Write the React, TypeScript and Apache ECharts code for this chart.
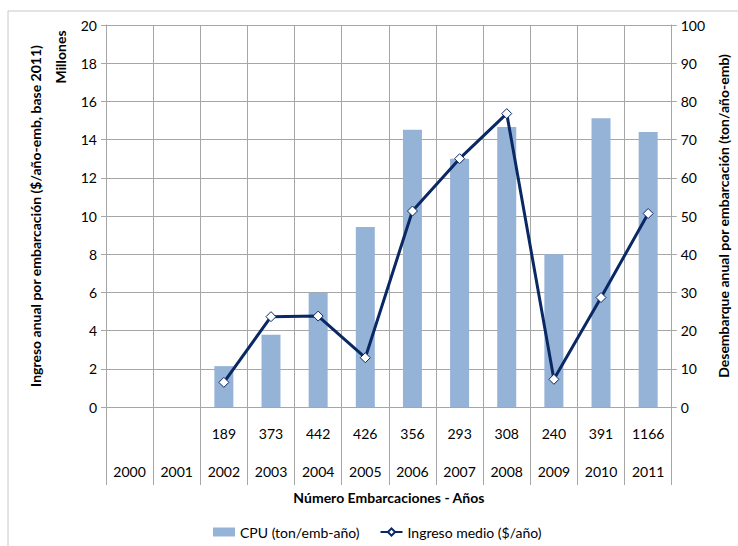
import React, { useEffect, useRef } from "react";
import * as echarts from "echarts";

const years = ["2000", "2001", "2002", "2003", "2004", "2005", "2006", "2007", "2008", "2009", "2010", "2011"];
const embarcaciones = ["", "", "189", "373", "442", "426", "356", "293", "308", "240", "391", "1166"];
const cpu = [null, null, 10.7, 18.9, 29.9, 47.1, 72.6, 65.0, 73.3, 40.0, 75.6, 72.0];
const ingreso = [null, null, 1.29, 4.73, 4.76, 2.58, 10.26, 13.0, 15.36, 1.45, 5.73, 10.13];

const FONT = "Lato, 'Open Sans', sans-serif";
const GRID = "#A6A6A6";
const FS = 14;

export default function App() {
  const ref = useRef<HTMLDivElement>(null);
  useEffect(() => {
    if (!ref.current) return;
    const chart = echarts.init(ref.current, undefined, { renderer: "svg" });
    const option = {
      animation: false,
      backgroundColor: "#ffffff",
      textStyle: { fontFamily: FONT, color: "#000" },
      grid: { left: 106, right: 66, top: 25, bottom: 139 },
      legend: {
        top: 520,
        left: 208,
        itemGap: 20,
        itemWidth: 22,
        itemHeight: 9,
        textStyle: { fontFamily: FONT, fontSize: FS, color: "#000" },
        data: [
          { name: "CPU (ton/emb-año)", icon: "rect" },
          { name: "Ingreso medio ($/año)" },
        ],
      },
      xAxis: {
        type: "category",
        data: years.map((y, i) => `{a|${embarcaciones[i] || " "}}\n{b|${y}}`),
        boundaryGap: true,
        axisLine: { show: true, lineStyle: { color: GRID } },
        axisTick: { show: true, length: 78, interval: 0, lineStyle: { color: GRID } },
        splitLine: { show: true, interval: 0, lineStyle: { color: GRID } },
        axisLabel: {
          interval: 0,
          margin: 7,
          fontFamily: FONT,
          fontSize: FS,
          color: "#000",
          rich: {
            a: { fontFamily: FONT, fontSize: FS, lineHeight: 38, color: "#000" },
            b: { fontFamily: FONT, fontSize: FS, lineHeight: 38, color: "#000" },
          },
        },
        name: "Número Embarcaciones - Años",
        nameLocation: "middle",
        nameGap: 83,
        nameTextStyle: { fontFamily: FONT, fontSize: FS, fontWeight: "bold", color: "#000" },
      },
      yAxis: [
        {
          type: "value",
          min: 0,
          max: 20,
          interval: 2,
          position: "left",
          axisLine: { show: true, lineStyle: { color: GRID } },
          axisTick: { show: true, length: 5, lineStyle: { color: GRID } },
          splitLine: { show: true, lineStyle: { color: GRID } },
          axisLabel: { fontFamily: FONT, fontSize: FS, color: "#000", margin: 9 },
          name: "Ingreso anual por embarcación ($/año-emb, base 2011)",
          nameLocation: "middle",
          nameRotate: 90,
          nameGap: 64,
          nameTextStyle: { fontFamily: FONT, fontSize: FS, fontWeight: "bold", color: "#000" },
        },
        {
          type: "value",
          min: 0,
          max: 100,
          interval: 10,
          position: "right",
          axisLine: { show: true, lineStyle: { color: GRID } },
          axisTick: { show: true, length: 5, lineStyle: { color: GRID } },
          splitLine: { show: false },
          axisLabel: { fontFamily: FONT, fontSize: FS, color: "#000", margin: 9 },
          name: "Desembarque anual por embarcación (ton/año-emb)",
          nameLocation: "middle",
          nameRotate: 90,
          nameGap: 44,
          nameTextStyle: { fontFamily: FONT, fontSize: FS, fontWeight: "bold", color: "#000" },
        },
      ],
      graphic: [
        {
          type: "rect",
          shape: { x: 8, y: 11, width: 800, height: 600 },
          style: { fill: "none", stroke: "#C8C8C8", lineWidth: 1 },
          silent: true,
        },
        {
          type: "text",
          x: 60,
          y: 57,
          rotation: Math.PI / 2,
          style: {
            text: "Millones",
            fontFamily: FONT,
            fontSize: FS,
            fontWeight: "bold",
            fill: "#000",
            textAlign: "center",
            textVerticalAlign: "middle",
          },
        },
      ],
      series: [
        {
          name: "CPU (ton/emb-año)",
          type: "bar",
          yAxisIndex: 1,
          data: cpu,
          barWidth: 19,
          itemStyle: { color: "#95B3D7" },
        },
        {
          name: "Ingreso medio ($/año)",
          type: "line",
          yAxisIndex: 0,
          data: ingreso,
          lineStyle: { color: "#0A2864", width: 3 },
          itemStyle: { color: "#ffffff", borderColor: "#0A2864", borderWidth: 1 },
          symbol: "diamond",
          symbolSize: 10,
          showSymbol: true,
          connectNulls: false,
        },
      ],
    };
    chart.setOption(option);
    return () => chart.dispose();
  }, []);
  return <div ref={ref} style={{ position: "absolute", left: 0, top: 0, width: 738, height: 546 }} />;
}
